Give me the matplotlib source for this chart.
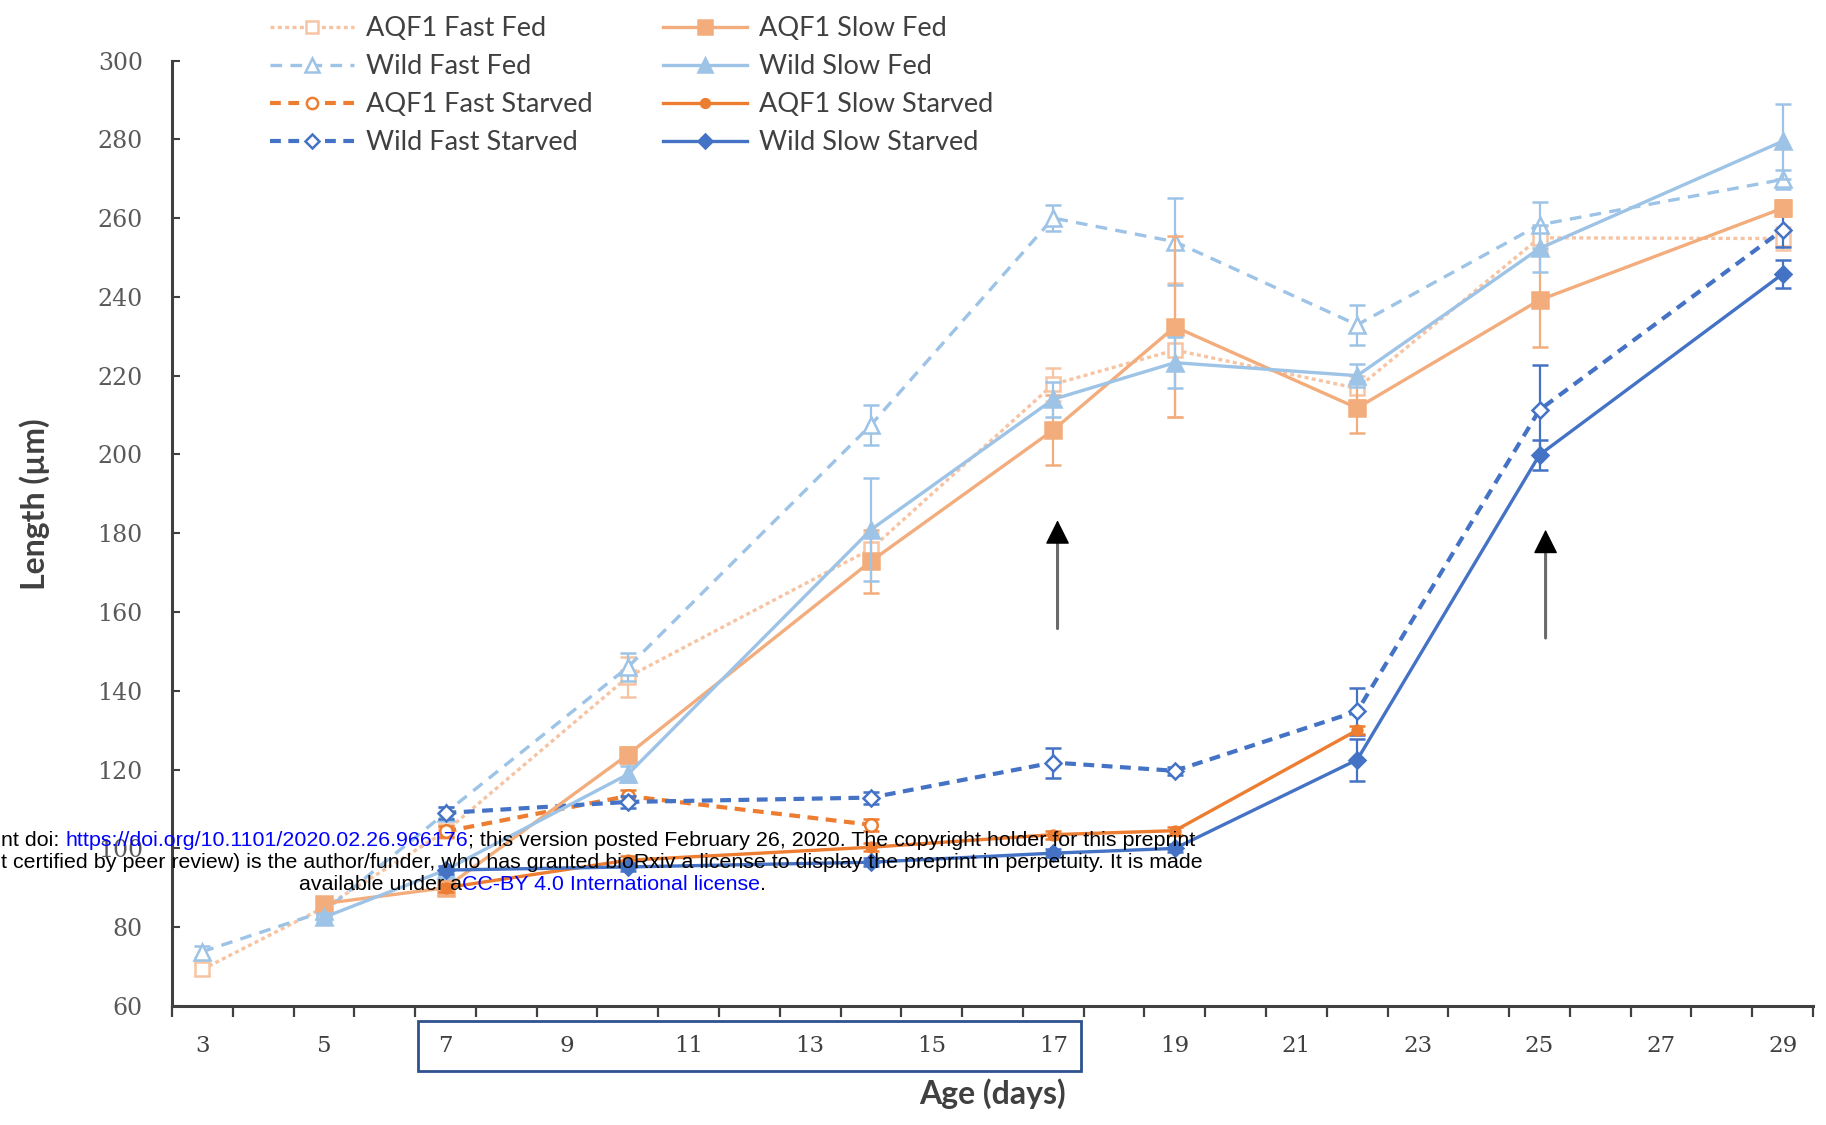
import matplotlib
matplotlib.use("Agg")
import matplotlib.pyplot as plt
import numpy as np
import matplotlib.transforms as mtransforms
from matplotlib.patches import Rectangle
from matplotlib.lines import Line2D

# ---------------- data ----------------
days_fast = [3, 5, 7, 10, 14, 17, 19, 22, 25, 29]
days_slow = [5, 7, 10, 14, 17, 19, 22, 25, 29]
days_aqf1_fast_starved = [7, 10, 14]
days_aqf1_slow_starved = [7, 10, 14, 17, 19, 22]
days_wild_starved = [7, 10, 14, 17, 19, 22, 25, 29]

aqf1_fast_fed = [69.3, 85.0, 104.3, 143.5, 176.0, 217.8, 226.5, 216.8, 255.0, 254.8]
aqf1_fast_fed_err = [1.5, 1.0, 1.0, 5.0, 4.0, 4.2, 17.0, 3.0, 3.0, 3.0]
wild_fast_fed = [73.8, 84.0, 109.0, 146.0, 207.5, 260.0, 254.0, 232.9, 258.3, 269.8]
wild_fast_fed_err = [1.5, 1.0, 1.5, 3.5, 5.0, 3.4, 11.0, 5.0, 5.8, 2.5]
aqf1_slow_fed = [86.0, 90.0, 123.8, 172.9, 206.2, 232.4, 211.8, 239.2, 262.5]
aqf1_slow_fed_err = [1.0, 1.0, 2.0, 8.0, 8.8, 23.0, 6.3, 12.0, 2.0]
wild_slow_fed = [82.5, 94.5, 118.8, 180.9, 214.0, 223.3, 220.0, 252.3, 279.5]
wild_slow_fed_err = [1.0, 1.0, 2.0, 13.0, 4.5, 6.5, 3.0, 5.9, 9.5]
aqf1_fast_starved = [104.3, 113.3, 106.0]
aqf1_fast_starved_err = [1.5, 1.5, 1.5]
aqf1_slow_starved = [90.0, 97.0, 100.3, 103.5, 104.5, 130.0]
aqf1_slow_starved_err = [1.0, 1.0, 1.0, 1.0, 1.0, 1.0]
wild_fast_starved = [109.0, 111.8, 112.9, 121.8, 119.7, 134.8, 211.3, 257.0]
wild_fast_starved_err = [1.5, 1.5, 1.5, 3.8, 1.0, 6.0, 11.4, 4.4]
wild_slow_starved = [94.5, 95.3, 96.5, 98.8, 100.0, 122.5, 199.9, 245.8]
wild_slow_starved_err = [1.0, 1.0, 1.0, 1.0, 1.0, 5.3, 3.8, 3.6]

series_labels = ["AQF1 Fast Fed", "Wild Fast Fed", "AQF1 Fast Starved", "Wild Fast Starved",
                 "AQF1 Slow Fed", "Wild Slow Fed", "AQF1 Slow Starved", "Wild Slow Starved"]

y_ticks = [60, 80, 100, 120, 140, 160, 180, 200, 220, 240, 260, 280, 300]
x_tick_labels = [3, 5, 7, 9, 11, 13, 15, 17, 19, 21, 23, 25, 27, 29]

# annotation arrows (day, y_start, y_end)
arrow_days = [17.07, 25.1]
arrow_starts = [155.8, 153.4]
arrow_ends = [183.3, 180.9]

# ---------------- figure ----------------
W, H = 1826, 1125
fig = plt.figure(figsize=(W / 100, H / 100), dpi=100)
fig.patch.set_facecolor("white")
ax = fig.add_axes([172 / W, 1 - 1006 / H, (1813 - 172) / W, (1006 - 60.5) / H])

C_PEACH_L = "#F6C4A3"
C_PEACH = "#F3AC7C"
C_LBLUE = "#9DC3E6"
C_ORANGE = "#ED7D31"
C_BLUE = "#4472C4"

styles = [
    # x, y, err, color, ls, marker, filled, ms, lw
    (days_fast, aqf1_fast_fed, aqf1_fast_fed_err, C_PEACH_L, (0, (1.2, 1.0)), "s", False, 10, 2.4),
    (days_fast, wild_fast_fed, wild_fast_fed_err, C_LBLUE, (0, (3.5, 2.5)), "^", False, 11, 2.4),
    (days_aqf1_fast_starved, aqf1_fast_starved, aqf1_fast_starved_err, C_ORANGE, (0, (2.6, 1.8)), "o", False, 9, 3.0),
    (days_wild_starved, wild_fast_starved, wild_fast_starved_err, C_BLUE, (0, (2.6, 1.8)), "D", False, 8, 3.0),
    (days_slow, aqf1_slow_fed, aqf1_slow_fed_err, C_PEACH, "-", "s", True, 11, 2.4),
    (days_slow, wild_slow_fed, wild_slow_fed_err, C_LBLUE, "-", "^", True, 11, 2.4),
    (days_aqf1_slow_starved, aqf1_slow_starved, aqf1_slow_starved_err, C_ORANGE, "-", "o", True, 7, 2.4),
    (days_wild_starved, wild_slow_starved, wild_slow_starved_err, C_BLUE, "-", "D", True, 8, 2.4),
]

handles = []
for i, (x, y, e, c, ls, m, filled, ms, lw) in enumerate(styles):
    ax.errorbar(x, y, yerr=e, color=c, ls=ls, lw=lw, marker=m, ms=ms,
                mfc=c if filled else "white", mec=c, mew=1.8,
                ecolor=c, elinewidth=1.6, capsize=6, capthick=1.6, zorder=3 + i)
    handles.append(Line2D([], [], color=c, ls=ls, lw=lw, marker=m, ms=ms * 0.9,
                          mfc=c if filled else "white", mec=c, mew=1.8))

ax.set_xlim(2.5, 29.5)
ax.set_ylim(60, 300)

for s in ["top", "right"]:
    ax.spines[s].set_visible(False)
for s in ["left", "bottom"]:
    ax.spines[s].set_color("#404040")
    ax.spines[s].set_linewidth(2.2)

ax.set_yticks(y_ticks)
ax.set_yticklabels([str(v) for v in y_ticks], family="DejaVu Serif", fontsize=17, color="#595959")
ax.tick_params(axis="y", direction="in", length=6, width=1.5, color="#404040", pad=21)

ax.set_xticks(x_tick_labels)
ax.set_xticklabels([str(v) for v in x_tick_labels], family="DejaVu Serif", fontsize=16.5, color="#404040")
ax.set_xticks(np.arange(2.5, 30, 1.0), minor=True)
ax.tick_params(axis="x", which="major", length=0, pad=21)
ax.tick_params(axis="x", which="minor", direction="out", length=8, width=1.6, color="#404040")

ax.set_ylabel("Length (µm)", family="Lato", fontsize=23, fontweight="bold", color="#404040")
ax.yaxis.set_label_coords(-(172 - 50) / 1641, (864 - 433) / 812)
ax.set_xlabel("Age (days)", family="Lato", fontsize=23, fontweight="bold", color="#404040", va="top")
ax.xaxis.set_label_coords(0.5, -(1078 - 1006) / 945.5)

# box around day labels 7-17
trans = mtransforms.blended_transform_factory(ax.transData, ax.transAxes)
ax.add_patch(Rectangle((6.54, -(1071 - 1006) / 945.5), 17.45 - 6.54, (1071 - 1021) / 945.5,
                       transform=trans, fill=False, ec="#2F528F", lw=2.0, clip_on=False))

# arrows
for d, y0, y1 in zip(arrow_days, arrow_starts, arrow_ends):
    ax.annotate("", xy=(d, y1 - 3), xytext=(d, y0),
                arrowprops=dict(arrowstyle="-", color="#6a6a6a", lw=2.2, shrinkA=0, shrinkB=0))
    ax.annotate("", xy=(d, y1), xytext=(d, y1 - 5),
                arrowprops=dict(arrowstyle="-|>,head_length=0.9,head_width=0.45", color="black",
                                lw=1, mutation_scale=17, shrinkA=0, shrinkB=0))

# legend
fig.legend(handles, series_labels, loc="upper left", bbox_to_anchor=(270 / W, 1 - 16.5 / H),
           ncol=2, frameon=False, prop={"family": "Lato", "size": 19.5}, labelcolor="#404040",
           handlelength=3.1, handletextpad=0.45, columnspacing=2.6, labelspacing=0.48,
           borderpad=0, borderaxespad=0)

# bioRxiv watermark overlay
renderer = fig.canvas.get_renderer()
WM_FONT = dict(family="Liberation Sans", fontsize=15.4, va="center", ha="left", zorder=20)


def seq_text(pieces, x_px, y_px):
    objs = [fig.text(0, 0, s, color=c, transform=None, **WM_FONT) for s, c in pieces]
    widths = [o.get_window_extent(renderer).width for o in objs]
    x = x_px
    for o, w in zip(objs, widths):
        o.set_position((x, H - y_px))
        x += w


seq_text([("nt doi: ", "black"), ("https://doi.org/10.1101/2020.02.26.966176", "#0000FF"),
          ("; this version posted February 26, 2020. The copyright holder for this preprint", "black")],
         1, 841)
seq_text([("t certified by peer review) is the author/funder, who has granted bioRxiv a license to display the preprint in perpetuity. It is made", "black")],
         1, 863)
seq_text([("available under a", "black"), ("CC-BY 4.0 International license", "#0000FF"), (".", "black")],
         299, 884)

fig.savefig("out.png", dpi=100, facecolor="white")
